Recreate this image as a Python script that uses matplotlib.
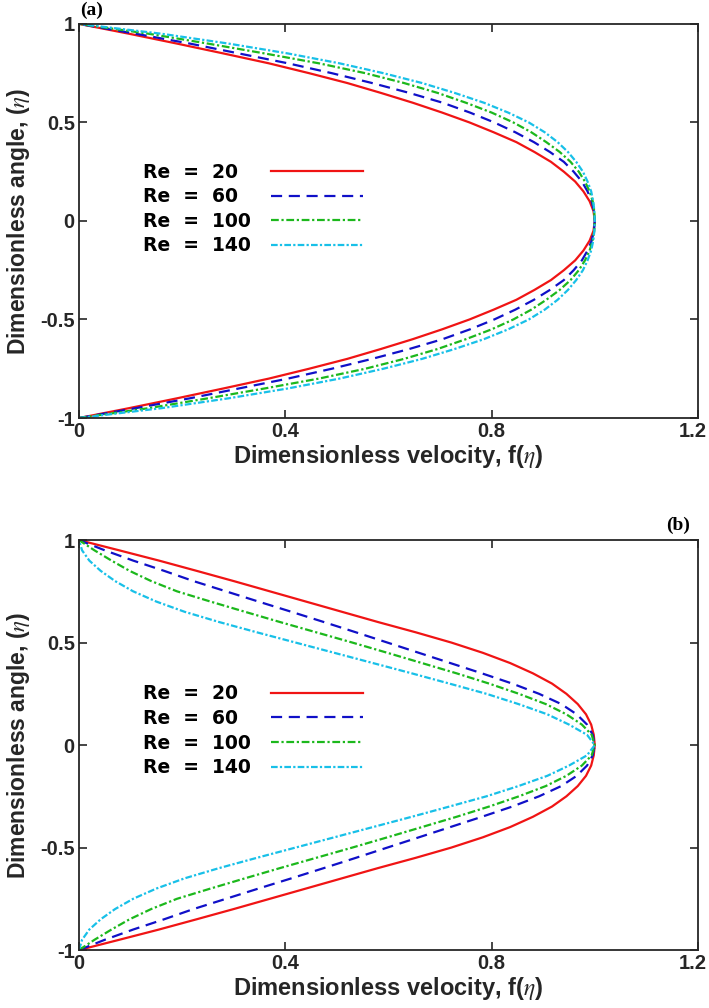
import matplotlib
matplotlib.use("Agg")
import matplotlib.pyplot as plt
import matplotlib.transforms as mtransforms

# dimensionless angle, lower wall to upper wall
eta = [-1, -0.95, -0.9, -0.85, -0.8, -0.75, -0.7, -0.65, -0.6, -0.55, -0.5,
       -0.45, -0.4, -0.35, -0.3, -0.25, -0.2, -0.15, -0.1, -0.05, 0,
       0.05, 0.1, 0.15, 0.2, 0.25, 0.3, 0.35, 0.4, 0.45, 0.5,
       0.55, 0.6, 0.65, 0.7, 0.75, 0.8, 0.85, 0.9, 0.95, 1]

re_values = [20, 60, 100, 140]

# profiles are symmetric: values read for eta = 0, 0.05, ..., 1
# panel (a)
fa_20 = [1, 0.9975, 0.99, 0.978, 0.962, 0.94, 0.915, 0.883, 0.848, 0.804, 0.757,
         0.704, 0.647, 0.585, 0.52, 0.446, 0.368, 0.28, 0.19, 0.097, 0]
fa_60 = [1, 0.9985, 0.994, 0.986, 0.975, 0.959, 0.94, 0.913, 0.882, 0.846, 0.805,
         0.758, 0.705, 0.64, 0.568, 0.49, 0.405, 0.31, 0.215, 0.11, 0]
fa_100 = [1, 0.999, 0.996, 0.99, 0.981, 0.969, 0.953, 0.932, 0.906, 0.877, 0.842,
          0.8, 0.75, 0.695, 0.63, 0.555, 0.465, 0.36, 0.25, 0.135, 0]
fa_140 = [1, 0.9992, 0.997, 0.993, 0.986, 0.977, 0.964, 0.948, 0.928, 0.903, 0.872,
          0.832, 0.785, 0.728, 0.665, 0.59, 0.505, 0.405, 0.29, 0.16, 0]

# panel (b)
fb_20 = [1, 0.998, 0.993, 0.983, 0.967, 0.945, 0.917, 0.88, 0.836, 0.783, 0.722,
         0.653, 0.58, 0.51, 0.44, 0.37, 0.30, 0.228, 0.155, 0.078, 0]
fb_60 = [1, 0.996, 0.985, 0.965, 0.935, 0.892, 0.84, 0.781, 0.72, 0.659, 0.598,
         0.537, 0.475, 0.412, 0.348, 0.285, 0.222, 0.165, 0.105, 0.05, 0]
fb_100 = [1, 0.994, 0.975, 0.945, 0.905, 0.853, 0.795, 0.732, 0.665, 0.598, 0.53,
          0.46, 0.39, 0.322, 0.255, 0.19, 0.14, 0.098, 0.063, 0.03, 0]
fb_140 = [1, 0.985, 0.95, 0.908, 0.852, 0.79, 0.718, 0.645, 0.57, 0.495, 0.42,
          0.345, 0.272, 0.205, 0.15, 0.105, 0.07, 0.042, 0.02, 0.006, 0]

xticks = [0, 0.4, 0.8, 1.2]
yticks = [-1, -0.5, 0, 0.5, 1]

colors = ["#f01414", "#1010c8", "#1cb81c", "#18c0e8"]
styles = ["-", (0, (5, 3)), (0, (3.5, 1.2, 1, 1.2)), (0, (3, 1, 1, 1))]

axcol = "#262626"
tickfont = dict(family="Liberation Sans", weight="bold", size=14.5)
plt.rcParams["mathtext.fontset"] = "stix"

fig = plt.figure(figsize=(7.09, 10.08), dpi=100)
ax1 = fig.add_axes([0.1114, 0.5853, 0.873, 0.391])
ax2 = fig.add_axes([0.1114, 0.0575, 0.873, 0.4067])

panels = [(ax1, [fa_20, fa_60, fa_100, fa_140]),
          (ax2, [fb_20, fb_60, fb_100, fb_140])]

for ax, series in panels:
    for half, re, c, ls in zip(series, re_values, colors, styles):
        f = half[::-1] + half[1:]  # mirror onto the lower half
        lab = "Re  =  %d" % re
        if re < 100:
            lab += "\u2007"
        ax.plot(f, eta, color=c, linestyle=ls, lw=1.6, label=lab)
    ax.set_xlim(0, 1.2)
    ax.set_ylim(-1, 1)
    ax.set_xticks(xticks)
    ax.set_xticklabels([("%g" % v) for v in xticks], fontdict=tickfont, color=axcol)
    ax.set_yticks(yticks)
    ax.set_yticklabels([("%g" % v) for v in yticks], fontdict=tickfont, color=axcol)
    ax.tick_params(direction="in", length=6, width=1.2, top=True, right=True,
                   colors=axcol, pad=3)
    # keep the last x label inside the figure
    last = ax.get_xticklabels()[-1]
    last.set_transform(last.get_transform() +
                       mtransforms.ScaledTranslation(-5 / 100, 0, fig.dpi_scale_trans))
    for sp in ax.spines.values():
        sp.set_color(axcol)
        sp.set_linewidth(1.3)
    ax.set_xlabel(r"Dimensionless velocity, f($\eta$)", family="Liberation Sans",
                  weight="bold", size=17, color=axcol, labelpad=1)
    ax.set_ylabel(r"Dimensionless angle, ($\eta$)", family="Liberation Sans",
                  weight="bold", size=16.5, color=axcol, labelpad=6)
    ax.legend(loc="upper left", bbox_to_anchor=(0.103, 0.648), frameon=False,
              markerfirst=False, borderpad=0, borderaxespad=0, handlelength=4.9,
              handletextpad=1.1, labelspacing=0.3,
              prop=dict(family="DejaVu Sans", weight="bold", size=13.5))

fig.text(0.113, 0.990, "(a)", family="Liberation Serif", weight="bold", size=14,
         va="center", ha="left")
fig.text(0.973, 0.479, "(b)", family="Liberation Serif", weight="bold", size=14,
         va="center", ha="right")

fig.savefig("out.png", dpi=100)
